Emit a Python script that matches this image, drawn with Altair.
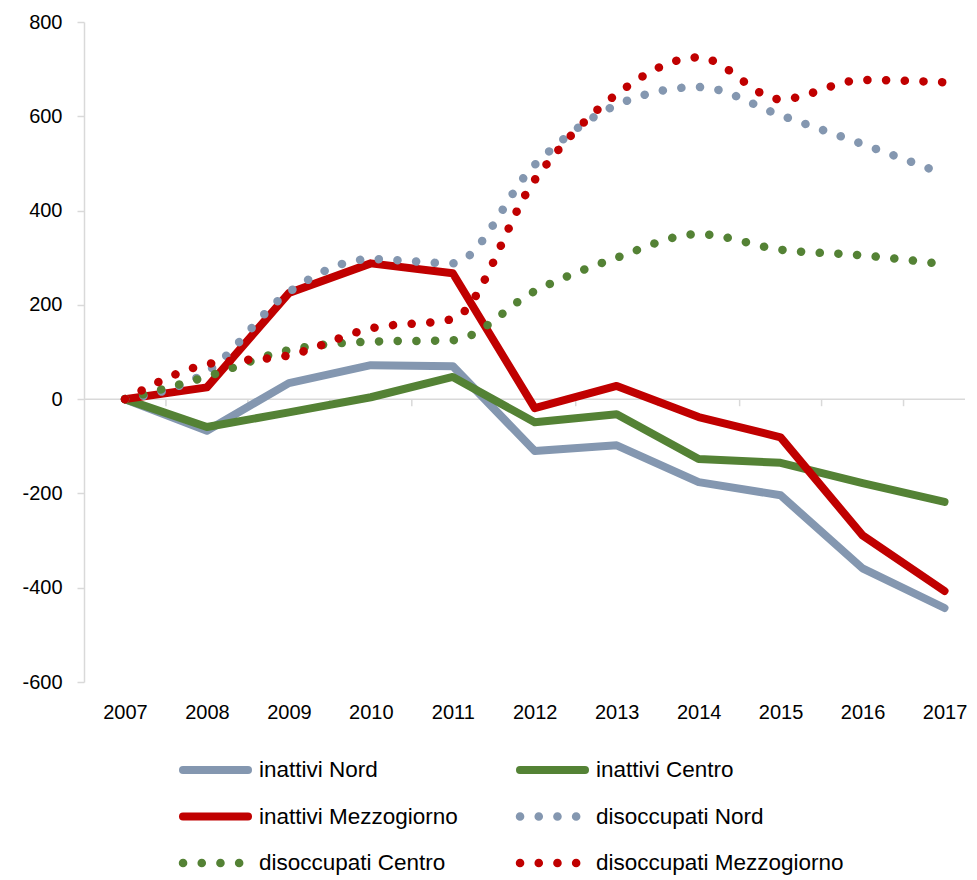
import altair as alt
import pandas as pd

# ---------------- data ----------------
years = [2007, 2008, 2009, 2010, 2011, 2012, 2013, 2014, 2015, 2016, 2017]
series_names = [
    "inattivi Nord", "inattivi Centro", "inattivi Mezzogiorno",
    "disoccupati Nord", "disoccupati Centro", "disoccupati Mezzogiorno",
]
inattivi_nord = [0, -67, 34, 72, 70, -110, -98, -176, -204, -359, -443]
inattivi_centro = [0, -59, -28, 4, 47, -49, -32, -127, -135, -178, -218]
inattivi_mezzogiorno = [0, 25, 225, 288, 267, -19, 28, -38, -81, -289, -407]
disoccupati_nord = [0, 58, 227, 297, 288, 497, 624, 662, 602, 541, 477]
disoccupati_centro = [0, 48, 104, 122, 125, 229, 300, 350, 317, 305, 286]
disoccupati_mezzogiorno = [0, 74, 93, 150, 170, 465, 647, 725, 636, 677, 672]
values = [inattivi_nord, inattivi_centro, inattivi_mezzogiorno,
          disoccupati_nord, disoccupati_centro, disoccupati_mezzogiorno]
y_ticks = [-600, -400, -200, 0, 200, 400, 600, 800]

# ---------------- styles ----------------
colors = ["#8497B0", "#548235", "#C00000", "#8497B0", "#548235", "#C00000"]
dotted = [False, False, False, True, True, True]
GRID = "#D9D9D9"
FONT = "Liberation Sans, Arial, sans-serif"
DOTS = [0.1, 18.6]

rows = []
for name, vals in zip(series_names, values):
    for yr, v in zip(years, vals):
        rows.append({"year": yr, "value": v, "series": name})
df = pd.DataFrame(rows)

x_scale = alt.Scale(domain=[2006.5, 2017.25], nice=False, zero=False)
y_scale = alt.Scale(domain=[-600, 800], nice=False, zero=False)
x_axis = alt.Axis(values=years, format="d", title=None, grid=False, domain=False,
                  ticks=False, tickSize=0, labelPadding=20, labelFlush=False,
                  labelOverlap=False, labelFont=FONT, labelFontSize=20,
                  labelColor="#000000")
y_axis = alt.Axis(values=y_ticks, title=None, grid=False, domainColor=GRID,
                  domainWidth=1.5, tickColor=GRID, tickWidth=1.5, tickSize=7,
                  labelPadding=15, labelFont=FONT, labelFontSize=20,
                  labelColor="#000000", labelExpr="'' + datum.value")


def X(field):
    return alt.X(field, type="quantitative", scale=x_scale, axis=x_axis)


def Y(field):
    return alt.Y(field, type="quantitative", scale=y_scale, axis=y_axis)


layers = []

# horizontal axis line at zero with downward ticks between years
zero_df = pd.DataFrame({"year": [2006.5, 2017.25], "value": [0, 0]})
layers.append(
    alt.Chart(zero_df).mark_line(color=GRID, strokeWidth=1.5).encode(x=X("year"), y=Y("value"))
)
tick_df = pd.DataFrame({"year": [y + 0.5 for y in years[:-1]],
                        "value": [0] * 10, "low": [-15] * 10})
layers.append(
    alt.Chart(tick_df).mark_rule(color=GRID, strokeWidth=1.5).encode(
        x=X("year"), y=Y("value"), y2="low")
)

# series lines
for name, c, d in zip(series_names, colors, dotted):
    if d:
        mk = alt.Chart(df).transform_filter(alt.datum.series == name).mark_line(
            color=c, strokeWidth=8.5, strokeCap="round", strokeJoin="round",
            strokeDash=DOTS, interpolate="monotone")
    else:
        mk = alt.Chart(df).transform_filter(alt.datum.series == name).mark_line(
            color=c, strokeWidth=8, strokeCap="round", strokeJoin="round")
    layers.append(mk.encode(x=X("year"), y=Y("value")))

# custom legend: 2 columns x 3 rows below the plot
COL_STEP, ROW_STEP = 337, 46.5
SYM_X0, SYM_X1, TXT_X, ROW_Y0 = 99, 164, 175, 748
legend_df = pd.DataFrame({"series": series_names})
for i, (name, c, d) in enumerate(zip(series_names, colors, dotted)):
    col, row = i % 2, i // 2
    sy = ROW_Y0 + row * ROW_STEP
    kw = dict(color=c, strokeWidth=8, strokeCap="round")
    if d:
        kw["strokeDash"] = DOTS
        kw["strokeWidth"] = 8.5
    sub = alt.Chart(legend_df).transform_filter(alt.datum.series == name)
    layers.append(sub.mark_rule(**kw).encode(
        x=alt.value(SYM_X0 + col * COL_STEP), x2=alt.value(SYM_X1 + col * COL_STEP),
        y=alt.value(sy)))
    layers.append(sub.mark_text(align="left", baseline="middle", font=FONT,
                                fontSize=22.5, color="#000000").encode(
        x=alt.value(TXT_X + col * COL_STEP), y=alt.value(sy), text="series:N"))

chart = alt.layer(*layers).properties(
    width=881, height=660,
    padding={"left": 76, "top": 14, "right": 4, "bottom": 194},
    autosize=alt.AutoSizeParams(type="none"),
    background="#ffffff",
).configure_view(stroke=None)

chart.save("out.html", embed_options={"renderer": "svg", "actions": False})
